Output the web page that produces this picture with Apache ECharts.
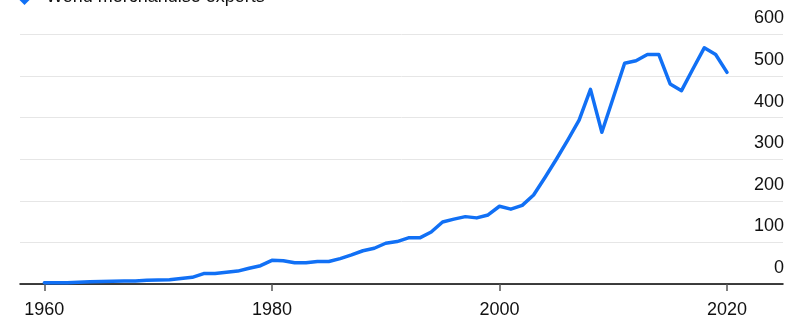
<!DOCTYPE html>
<html>
<head>
<meta charset="utf-8">
<script src="https://cdn.jsdelivr.net/npm/echarts@6/dist/echarts.min.js"></script>
<style>
html,body{margin:0;padding:0;background:#fff;}
#chart{width:799px;height:333px;}
</style>
</head>
<body>
<div id="chart"></div>
<script>
const seriesName = 'World merchandise exports';
const years = [1960,1961,1962,1963,1964,1965,1966,1967,1968,1969,
  1970,1971,1972,1973,1974,1975,1976,1977,1978,1979,
  1980,1981,1982,1983,1984,1985,1986,1987,1988,1989,
  1990,1991,1992,1993,1994,1995,1996,1997,1998,1999,
  2000,2001,2002,2003,2004,2005,2006,2007,2008,2009,
  2010,2011,2012,2013,2014,2015,2016,2017,2018,2019,2020];
const values = [3,3,3,4,5.5,6,6.5,7,7,9,
  9.5,10,13,16,25,25.5,28,31,38,44,
  57,56,51,51,54,54,61,70,80,86,
  98,102,111,111,125,149,156,162,159,166,
  187,180,189,214,256,300,346,394,468,365,
  448,531,537,552,552,481,465,517,568,552,509];
const xTicks = [1960,1980,2000,2020];
const yTicks = [0,100,200,300,400,500,600];

const FONT = 'Liberation Sans, Arial, Helvetica, sans-serif';
const chart = echarts.init(document.getElementById('chart'), null, {renderer:'canvas'});
chart.setOption({
  animation:false,
  backgroundColor:'#fff',
  grid:{left:20,right:16,top:34.5,bottom:49,containLabel:false},
  xAxis:{
    type:'value',
    min:1957.86, max:2024.92,
    splitLine:{show:false},
    axisLine:{show:true,lineStyle:{color:'#000',width:1.5}},
    axisTick:{show:true,customValues:xTicks,length:7,lineStyle:{color:'#555',width:1.5}},
    axisLabel:{customValues:xTicks,formatter:v=>String(v),margin:17,
      color:'#111',fontSize:18,fontFamily:FONT}
  },
  yAxis:{
    type:'value',position:'right',
    min:0,max:600,interval:100,
    axisLine:{show:false},axisTick:{show:false},
    splitLine:{show:true,lineStyle:{color:'#e6e6e6',width:1}},
    axisLabel:{inside:true,margin:-1,verticalAlign:'bottom',lineHeight:18,
      padding:[0,0,7,0],color:'#111',fontSize:18,fontFamily:FONT,
      formatter:v=>String(v)}
  },
  graphic:[
    {type:'polygon',shape:{points:[[24.5,-5],[29.5,0],[24.5,5],[19.5,0]]},style:{fill:'#1170f5'}},
    {type:'text',x:46,y:-12,style:{text:seriesName,fill:'#111',fontSize:18,fontFamily:FONT,lineHeight:18,verticalAlign:'top'}}
  ],
  series:[{
    name:seriesName,type:'line',
    data:years.map((y,i)=>[y,values[i]]),
    showSymbol:false,symbol:'none',
    lineStyle:{color:'#1170f5',width:3.5,join:'round',cap:'round'},
    itemStyle:{color:'#1170f5'}
  }]
});
</script>
</body>
</html>
